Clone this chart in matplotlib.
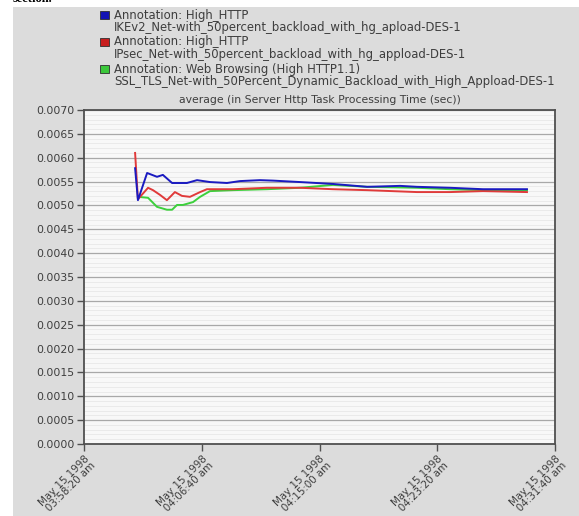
import matplotlib
matplotlib.use("Agg")
import matplotlib.pyplot as plt
from matplotlib.patches import Rectangle
from matplotlib.ticker import MultipleLocator, FixedLocator

# Elapsed simulation time (seconds after 03:58:20) and averaged task processing time (sec)
ikev2_t = [217, 229, 268, 310, 335, 374, 437, 480, 535, 607, 662, 747, 803, 917,
           1057, 1202, 1342, 1414, 1554, 1694, 1881]
ikev2_v = [0.00578, 0.00511, 0.00568, 0.00560, 0.00564, 0.00547, 0.00547, 0.00553,
           0.00549, 0.00547, 0.00551, 0.00553, 0.00552, 0.00549, 0.00545, 0.00539,
           0.00541, 0.00539, 0.00537, 0.00534, 0.00534]

ipsec_t = [217, 229, 272, 293, 323, 352, 386, 416, 450, 493, 522, 633, 777, 917,
           1057, 1202, 1414, 1554, 1694, 1881]
ipsec_v = [0.00610, 0.00513, 0.00537, 0.00532, 0.00522, 0.00511, 0.00528, 0.00520,
           0.00518, 0.00528, 0.00534, 0.00534, 0.00537, 0.00537, 0.00534, 0.00532,
           0.00528, 0.00528, 0.00530, 0.00528]

ssl_t = [229, 272, 310, 352, 374, 395, 420, 463, 493, 535, 633, 777, 917, 1057,
         1202, 1414, 1554, 1694, 1881]
ssl_v = [0.00518, 0.00516, 0.00497, 0.00491, 0.00491, 0.00501, 0.00501, 0.00507,
         0.00518, 0.00530, 0.00532, 0.00534, 0.00537, 0.00543, 0.00539, 0.00537,
         0.00534, 0.00532, 0.00532]

x_tick_pos = [0, 500, 1000, 1500, 2000]
x_tick_labels = ["May 15 1998\n03:58:20 am", "May 15 1998\n04:06:40 am",
                 "May 15 1998\n04:15:00 am", "May 15 1998\n04:23:20 am",
                 "May 15 1998\n04:31:40 am"]

legend_entries = [
    ("Annotation: High_HTTP", "IKEv2_Net-with_50percent_backload_with_hg_apload-DES-1", "#1414b4"),
    ("Annotation: High_HTTP", "IPsec_Net-with_50percent_backload_with_hg_appload-DES-1", "#c81e1e"),
    ("Annotation: Web Browsing (High HTTP1.1)",
     "SSL_TLS_Net-with_50Percent_Dynamic_Backload_with_High_Appload-DES-1", "#3cc83c"),
]

W, H = 579, 516
fig = plt.figure(figsize=(W / 100, H / 100), dpi=100)
fig.patch.set_facecolor("white")

# grey report panel behind everything
fig.patches.append(Rectangle((13 / W, 0), 1 - 13 / W, 1 - 7 / H, transform=fig.transFigure,
                             facecolor="#dcdcdc", edgecolor="none", zorder=-10))
fig.text(13 / W, 1 + 7 / H, "section.", fontsize=9, fontweight="bold", family="Liberation Serif",
         ha="left", va="top", color="black")

txt = "#3e3e3e"
fam = "DejaVu Sans"
fs = 7.8
fs_leg = 8.4

# legend block
for i, (l1, l2, c) in enumerate(legend_entries):
    yc = 15 + 27 * i
    fig.patches.append(Rectangle((100 / W, 1 - (yc + 3.5) / H), 9 / W, 7 / H,
                                 transform=fig.transFigure, facecolor=c,
                                 edgecolor="#303030", linewidth=0.6, zorder=2))
    fig.text(114 / W, 1 - yc / H, l1, fontsize=fs_leg, color=txt, ha="left", va="center",
             family=fam)
    fig.text(114 / W, 1 - (yc + 12.5) / H, l2, fontsize=fs_leg, color=txt, ha="left", va="center",
             family=fam)

ax = fig.add_axes([84 / W, 1 - 444 / H, (555 - 84) / W, (444 - 110) / H])
ax.set_facecolor("#f8f8f8")
ax.set_xlim(0, 2000)
ax.set_ylim(0, 0.0070)

ax.yaxis.set_minor_locator(MultipleLocator(0.0001))
ax.grid(True, which="major", axis="y", color="#a8a8a8", linewidth=0.9)
ax.grid(True, which="minor", axis="y", color="#e8e8e8", linewidth=0.6)
ax.set_axisbelow(True)
ax.set_yticks([i * 0.0005 for i in range(15)])
ax.set_yticklabels([f"{i * 0.0005:.4f}" for i in range(15)], fontsize=fs, color=txt,
                   family=fam)
ax.tick_params(axis="y", which="minor", left=False)

ax.xaxis.set_major_locator(FixedLocator(x_tick_pos))
ax.set_xticklabels(x_tick_labels, rotation=45, ha="right", va="top", rotation_mode="anchor",
                   fontsize=7.4, color=txt, family=fam, linespacing=0.9)
ax.tick_params(axis="both", which="major", length=5, width=1, color="#505050", direction="out", pad=2)

for s in ax.spines.values():
    s.set_color("#505050")
    s.set_linewidth(1.3)

ax.plot(ssl_t, ssl_v, color="#3cd03c", linewidth=1.4, zorder=3)
ax.plot(ipsec_t, ipsec_v, color="#e03a3a", linewidth=1.4, zorder=4)
ax.plot(ikev2_t, ikev2_v, color="#1a1ac0", linewidth=1.4, zorder=5)

ax.set_title("average (in Server Http Task Processing Time (sec))", fontsize=fs, color=txt,
             family=fam, pad=5)

fig.savefig("out.png", dpi=100, facecolor=fig.get_facecolor())
